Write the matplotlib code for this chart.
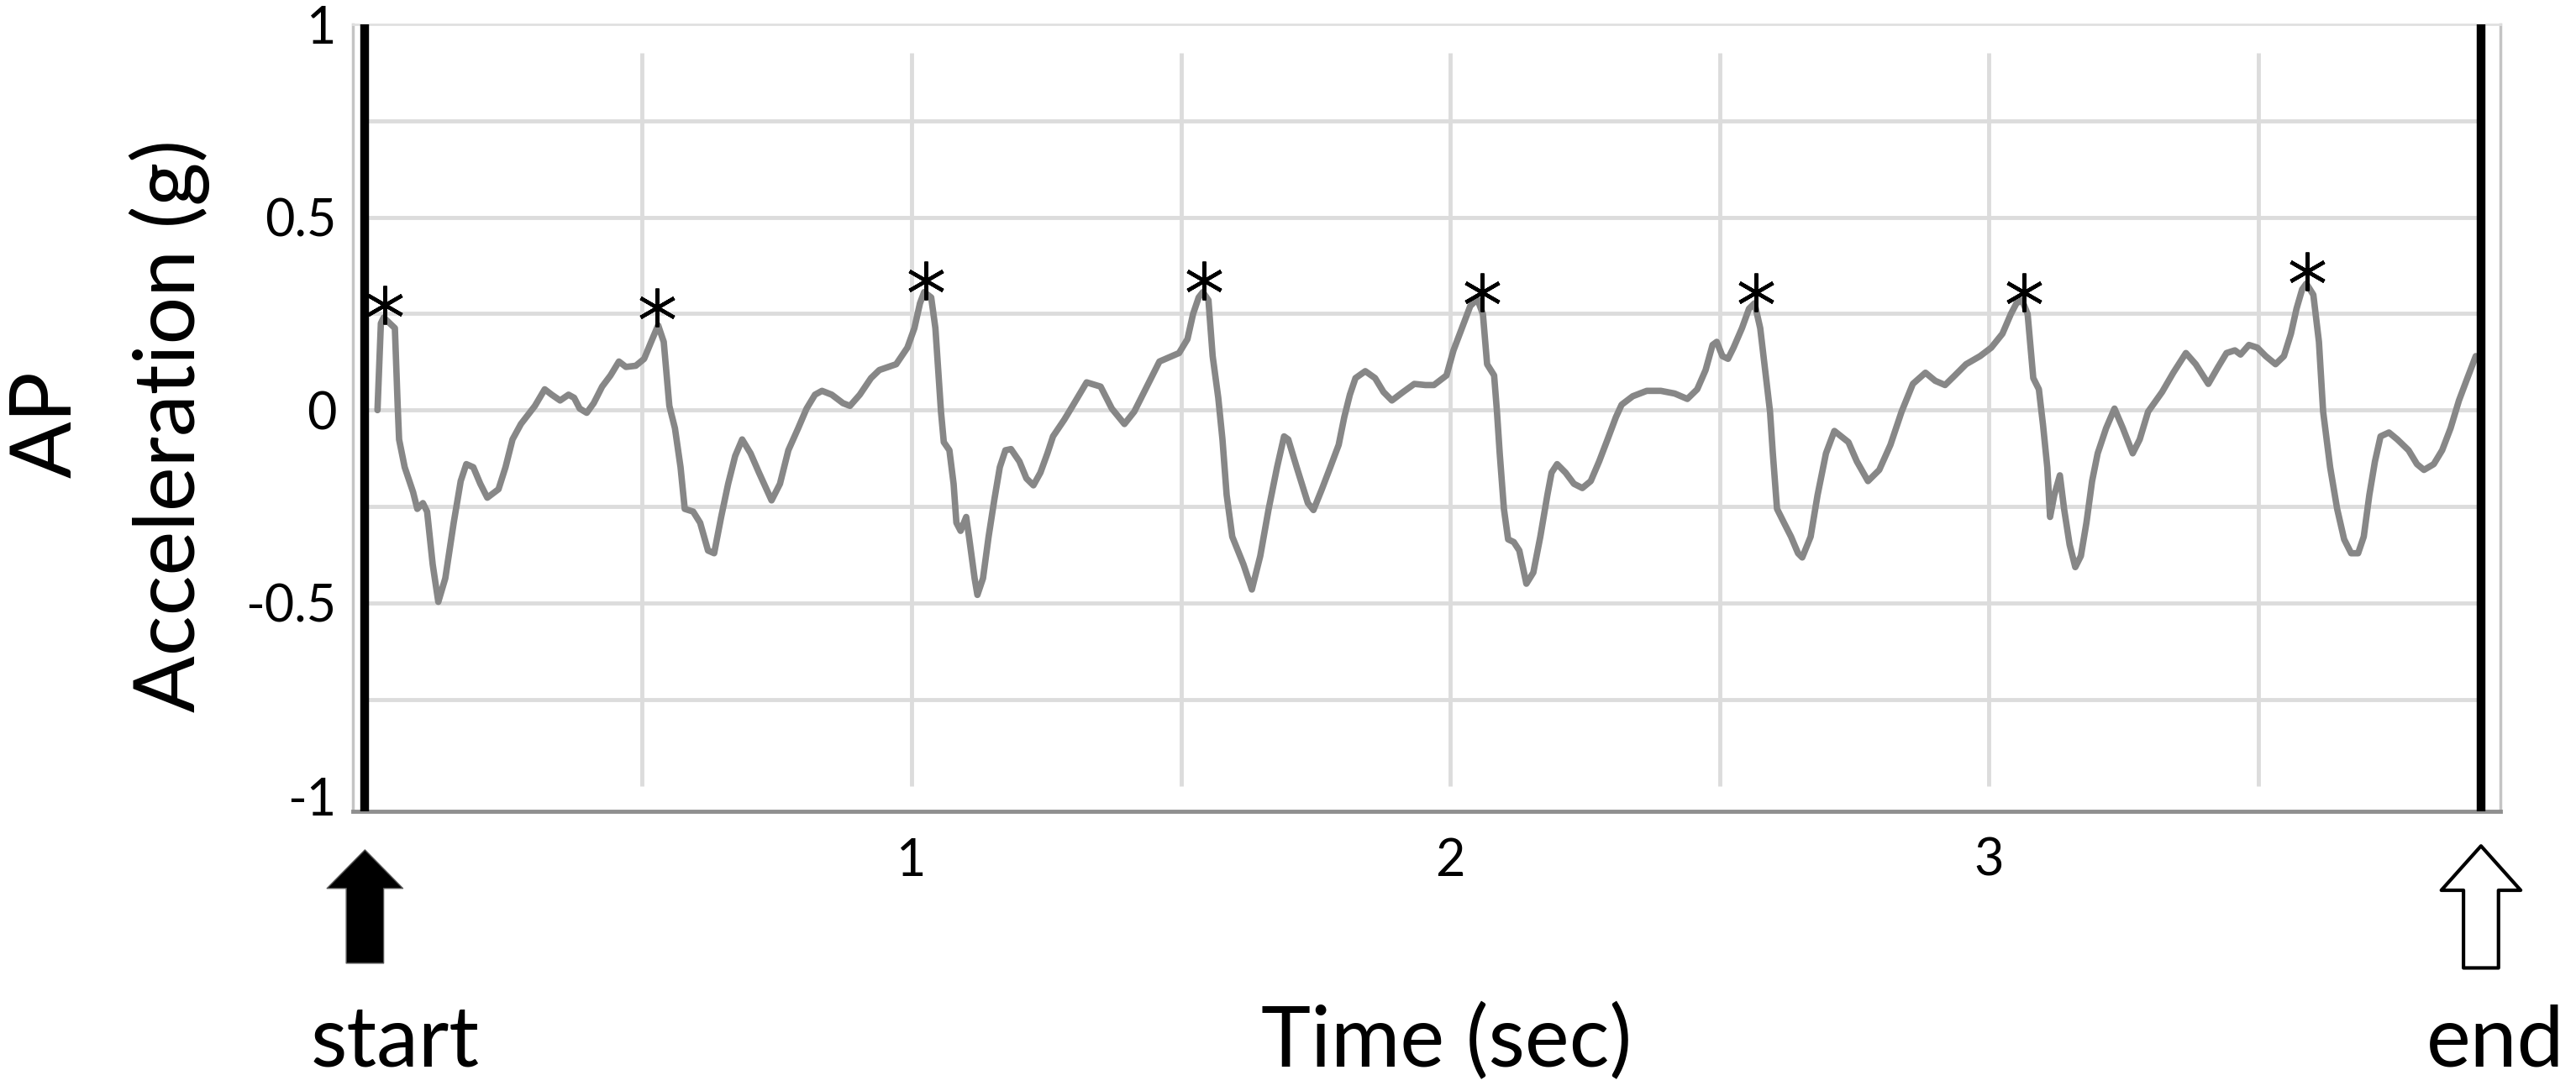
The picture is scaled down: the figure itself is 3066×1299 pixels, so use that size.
import numpy as np
import matplotlib.pyplot as plt

plt.rcParams['font.family'] = ['Lato', 'DejaVu Sans']

# AP acceleration trace (g), time in seconds
time_s = [
    0.0083, 0.0146, 0.0198, 0.0406, 0.0458, 0.0484, 0.0588, 0.0744, 0.0822, 0.0926,
    0.1004, 0.1108, 0.1212, 0.1342, 0.1498, 0.1628, 0.1732, 0.1862, 0.1992, 0.2122,
    0.2330, 0.2460, 0.2590, 0.2746, 0.3006, 0.3188, 0.3318, 0.3474, 0.3630, 0.3734,
    0.3838, 0.3968, 0.4098, 0.4254, 0.4410, 0.4566, 0.4696, 0.4878, 0.5034, 0.5164,
    0.5294, 0.5398, 0.5502, 0.5606, 0.5710, 0.5788, 0.5944, 0.6074, 0.6220,
    0.6334, 0.6464, 0.6594, 0.6724, 0.6854, 0.7010, 0.7166, 0.7400, 0.7556, 0.7712,
    0.7894, 0.8050, 0.8206, 0.8336, 0.8518, 0.8726, 0.8856, 0.9038, 0.9246, 0.9402,
    0.9714, 0.9922, 1.0052, 1.0156, 1.0234, 1.0364, 1.0442, 1.0494, 1.0546, 1.0598,
    1.0702, 1.0780, 1.0832, 1.0910, 1.1014, 1.1066, 1.1170, 1.1222, 1.1326, 1.1430,
    1.1534, 1.1638, 1.1742, 1.1846, 1.2002, 1.2132, 1.2262, 1.2392, 1.2522, 1.2626,
    1.2834, 1.2990,
    1.3250, 1.3510, 1.3718, 1.3952, 1.4134, 1.4394, 1.4602, 1.4966, 1.5122, 1.5226,
    1.5330, 1.5408, 1.5512, 1.5590, 1.5694, 1.5772, 1.5850, 1.5954, 1.6162, 1.6318,
    1.6474, 1.6630, 1.6786, 1.6916, 1.6994, 1.7150, 1.7358, 1.7462, 1.7618, 1.7774,
    1.7930, 1.8034, 1.8138, 1.8242, 1.8424, 1.8606, 1.8762, 1.8918, 1.9126, 1.9334,
    1.9542, 1.9698,
    1.9932, 2.0062, 2.0218, 2.0374, 2.0504, 2.0608, 2.0686, 2.0816, 2.0869, 2.0920,
    2.0998, 2.1076, 2.1181, 2.1284, 2.1415, 2.1544, 2.1674, 2.1805, 2.1883, 2.1986,
    2.2142, 2.2298, 2.2454, 2.2610, 2.2766, 2.2922, 2.3078, 2.3183, 2.3390, 2.3651,
    2.3911, 2.4170, 2.4404, 2.4587, 2.4743, 2.4872, 2.4950, 2.5055, 2.5159, 2.5262,
    2.5418, 2.5549, 2.5652, 2.5757, 2.5835, 2.5939, 2.5991, 2.6069, 2.6198, 2.6329,
    2.6459, 2.6537,
    2.6693, 2.6822, 2.6978, 2.7134, 2.7395, 2.7551, 2.7758, 2.7967, 2.8175, 2.8382,
    2.8591, 2.8825, 2.9006, 2.9189, 2.9371, 2.9579, 2.9839, 3.0047, 3.0254, 3.0410,
    3.0515, 3.0619, 3.0722, 3.0827, 3.0931, 3.1009, 3.1087, 3.1139, 3.1217, 3.1321,
    3.1399, 3.1502, 3.1607, 3.1711, 3.1814, 3.1919, 3.2023, 3.2179, 3.2335, 3.2491,
    3.2673, 3.2803, 3.2959,
    3.3219, 3.3427, 3.3661, 3.3843, 3.4077, 3.4259, 3.4415, 3.4571, 3.4675, 3.4831,
    3.4987, 3.5143, 3.5325, 3.5481, 3.5611, 3.5715, 3.5819, 3.5897, 3.6027, 3.6131,
    3.6209, 3.6339, 3.6469, 3.6599, 3.6729, 3.6859, 3.6963, 3.7067, 3.7171, 3.7275,
    3.7431, 3.7587, 3.7795, 3.7951, 3.8081, 3.8263, 3.8419, 3.8575, 3.8731, 3.8887,
    3.9043,
]
ap_acc = [
    0.000, 0.225, 0.240, 0.2125, 0.011, -0.076, -0.148, -0.2125, -0.256, -0.241,
    -0.263, -0.400, -0.497, -0.436, -0.292, -0.184, -0.140, -0.148, -0.191, -0.227,
    -0.205, -0.148, -0.076, -0.036, 0.011, 0.054, 0.040, 0.025, 0.040, 0.032,
    0.004, -0.007, 0.018, 0.061, 0.090, 0.126, 0.112, 0.115, 0.133, 0.177,
    0.220, 0.177, 0.011, -0.047, -0.148, -0.256, -0.263, -0.292, -0.364,
    -0.371, -0.277, -0.191, -0.119, -0.076, -0.112, -0.162, -0.234, -0.191, -0.104,
    -0.047, 0.004, 0.040, 0.050, 0.040, 0.018, 0.011, 0.040, 0.083, 0.104,
    0.119, 0.162, 0.2125, 0.277, 0.306, 0.292, 0.2125, 0.104, -0.004, -0.083,
    -0.104, -0.191, -0.292, -0.313, -0.277, -0.328, -0.436, -0.479, -0.436, -0.328,
    -0.234, -0.148, -0.104, -0.101, -0.133, -0.177, -0.195, -0.162, -0.112, -0.068,
    -0.025, 0.011,
    0.072, 0.061, 0.004, -0.036, -0.004, 0.068, 0.126, 0.148, 0.184, 0.249,
    0.292, 0.306, 0.285, 0.140, 0.032, -0.076, -0.220, -0.328, -0.400, -0.465,
    -0.378, -0.256, -0.148, -0.068, -0.076, -0.148, -0.241, -0.259, -0.205, -0.148,
    -0.090, -0.018, 0.040, 0.083, 0.101, 0.083, 0.047, 0.025, 0.047, 0.068,
    0.065, 0.065,
    0.090, 0.155, 0.2125, 0.270, 0.288, 0.249, 0.119, 0.090, -0.004, -0.112,
    -0.256, -0.335, -0.342, -0.364, -0.450, -0.421, -0.328, -0.220, -0.162, -0.140,
    -0.162, -0.191, -0.202, -0.184, -0.133, -0.076, -0.018, 0.014, 0.036, 0.050,
    0.050, 0.043, 0.029, 0.054, 0.104, 0.169, 0.177, 0.140, 0.133, 0.162,
    0.2125, 0.263, 0.277, 0.2125, 0.119, -0.004, -0.112, -0.256, -0.292, -0.328,
    -0.371, -0.382,
    -0.328, -0.220, -0.112, -0.054, -0.083, -0.133, -0.184, -0.155, -0.090, -0.004,
    0.068, 0.097, 0.076, 0.065, 0.090, 0.119, 0.140, 0.162, 0.198, 0.249,
    0.277, 0.285, 0.249, 0.083, 0.054, -0.040, -0.148, -0.277, -0.220, -0.169,
    -0.256, -0.349, -0.407, -0.378, -0.292, -0.184, -0.112, -0.047, 0.004, -0.047,
    -0.112, -0.076, -0.004,
    0.047, 0.097, 0.148, 0.119, 0.068, 0.112, 0.148, 0.155, 0.144, 0.169,
    0.162, 0.140, 0.119, 0.140, 0.198, 0.263, 0.313, 0.328, 0.299, 0.177,
    -0.004, -0.148, -0.256, -0.335, -0.371, -0.371, -0.328, -0.220, -0.133, -0.068,
    -0.058, -0.076, -0.104, -0.140, -0.155, -0.140, -0.104, -0.047, 0.025, 0.083,
    0.140,
]

# detected peaks (asterisks)
peak_t = [0.0223, 0.5279, 1.0270, 1.5434, 2.0598, 2.5679, 3.0660, 3.5907]
peak_acc = [0.272, 0.266, 0.337, 0.336, 0.305, 0.305, 0.305, 0.360]

# start / end of the analysed window
start_t = -0.015
end_t = 3.914

x_ticks = [1, 2, 3]
x_tick_labels = ['1', '2', '3']
y_ticks = [-1, -0.5, 0, 0.5, 1]
y_tick_labels = ['-1', '-0.5', '0', '0.5', '1']
grid_y = [-0.75, -0.5, -0.25, 0, 0.25, 0.5, 0.75]
grid_x = [0.5, 1, 1.5, 2, 2.5, 3, 3.5]

W, H = 3066, 1299
fig = plt.figure(figsize=(W / 100, H / 100), dpi=100)
ax = fig.add_axes([420 / W, 1 - 966 / H, (2976 - 420) / W, (966 - 29) / H])
ax.set_xlim(-0.0374, 3.950)
ax.set_ylim(-1.04, 1.0)

# light grid, drawn inside the window only
grid_col = '#dcdcdc'
ax.hlines(grid_y, start_t, end_t, color=grid_col, lw=3.5, zorder=0)
ax.vlines(grid_x, -0.975, 0.925, color=grid_col, lw=3.5, zorder=0)

# trace and peaks
ax.plot(time_s, ap_acc, color='#878787', lw=5.5, solid_joinstyle='round',
        solid_capstyle='round', zorder=3)
ax.plot(peak_t, peak_acc, ls='none', marker=(6, 2, 0), ms=33, mew=3.2,
        color='black', zorder=4)

# start / end markers
ax.axvline(start_t, color='black', lw=7.5, zorder=5)
ax.axvline(end_t, color='black', lw=7.5, zorder=5)

# frame
ax.spines['top'].set_color('#e0e0e0')
ax.spines['top'].set_linewidth(2)
ax.spines['left'].set_color('#c4c4c4')
ax.spines['left'].set_linewidth(2.5)
ax.spines['right'].set_color('#c4c4c4')
ax.spines['right'].set_linewidth(2.5)
ax.spines['bottom'].set_color('#8f8f8f')
ax.spines['bottom'].set_linewidth(3.5)

ax.set_xticks(x_ticks)
ax.set_xticklabels(x_tick_labels)
ax.set_yticks(y_ticks)
ax.set_yticklabels(y_tick_labels)
ax.tick_params(axis='both', length=0, labelsize=44)
ax.tick_params(axis='y', pad=14)
ax.tick_params(axis='x', pad=22)

# arrows below the axis
ax.annotate('', xy=(start_t, -0.049), xytext=(start_t, -0.193),
            xycoords=('data', 'axes fraction'), textcoords=('data', 'axes fraction'),
            arrowprops=dict(arrowstyle='simple,head_length=33,head_width=65,tail_width=32',
                            mutation_scale=1, shrinkA=0, shrinkB=0,
                            fc='black', ec='#555555', lw=1),
            annotation_clip=False)
ax.annotate('', xy=(end_t, -0.044), xytext=(end_t, -0.199),
            xycoords=('data', 'axes fraction'), textcoords=('data', 'axes fraction'),
            arrowprops=dict(arrowstyle='simple,head_length=38,head_width=68,tail_width=30',
                            mutation_scale=1, shrinkA=0, shrinkB=0,
                            fc='white', ec='black', lw=3),
            annotation_clip=False)

# labels
big = 72
fig.text(56 / W, 1 - 505 / H, 'AP', rotation=90, ha='center', va='center', fontsize=big)
fig.text(202 / W, 1 - 507 / H, 'Acceleration (g)', rotation=90, ha='center', va='center',
         fontsize=big)
fig.text(1722 / W, 1 - 1270 / H, 'Time (sec)', ha='center', va='baseline', fontsize=big)
fig.text(470 / W, 1 - 1270 / H, 'start', ha='center', va='baseline', fontsize=big)
fig.text(2970 / W, 1 - 1270 / H, 'end', ha='center', va='baseline', fontsize=big)

fig.savefig('out.png', dpi=100, facecolor='white')
